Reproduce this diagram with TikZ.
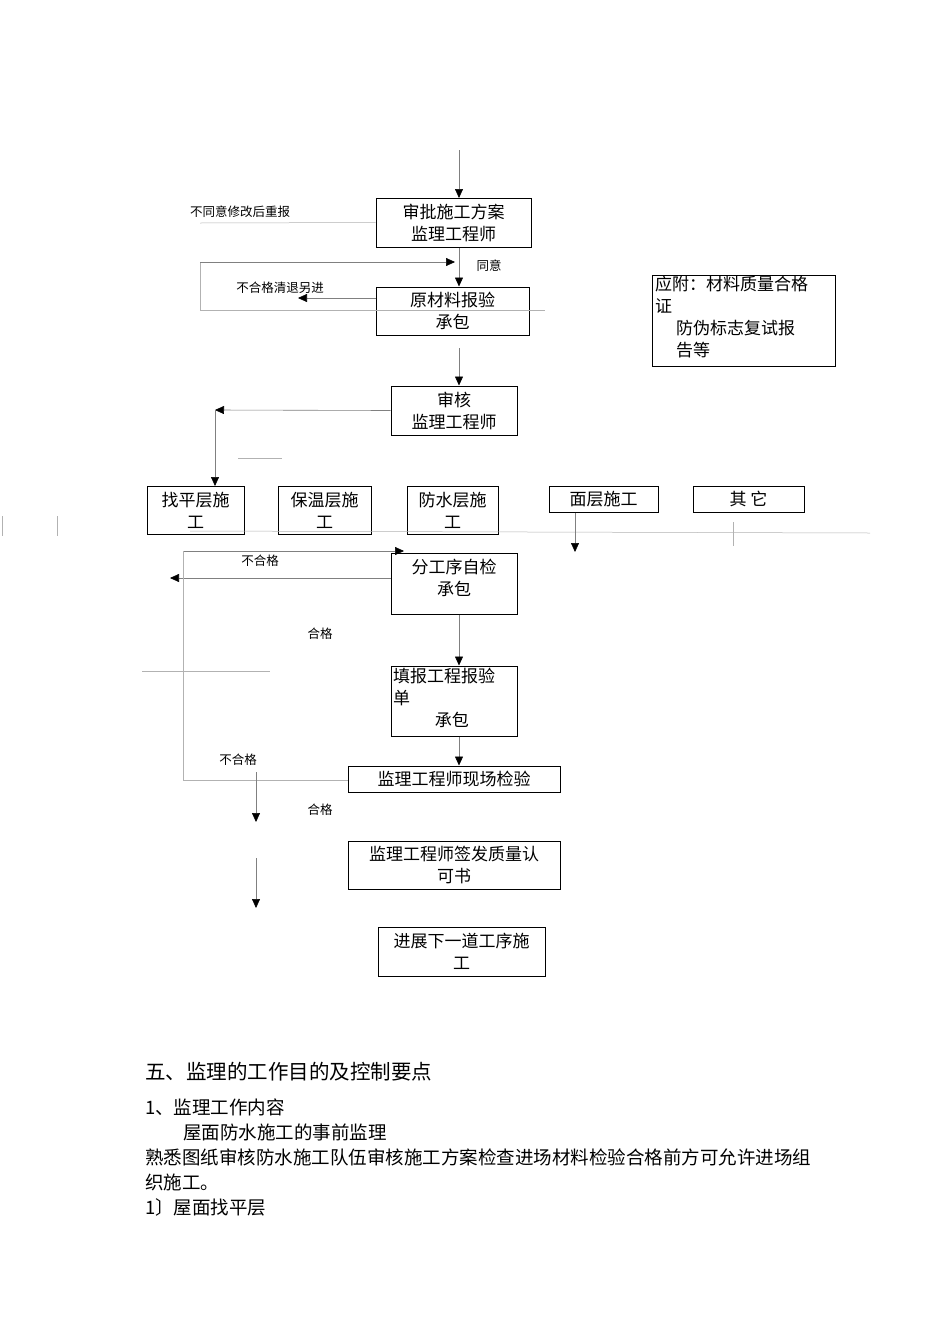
\documentclass[tikz,border=0pt]{standalone}
\usepackage{fontspec}
\setmainfont{Noto Sans CJK SC}
\usetikzlibrary{arrows.meta}
\begin{document}
\begin{tikzpicture}[x=1pt,y=-1pt,
  bx/.style={draw,line width=1pt,inner sep=0pt,align=center,font=\fontsize{17}{22}\selectfont},
  lab/.style={inner sep=0pt,font=\fontsize{12.5}{14}\selectfont},
  arr/.style={-{Triangle[length=9pt,width=8pt,color=black]},line width=0.6pt,draw=gray},
  gl/.style={draw=gray!60,line width=0.5pt},
  body/.style={inner sep=0pt,anchor=west,font=\fontsize{18.5}{20}\selectfont}]
\useasboundingbox (0,0) rectangle (950,1344);
% boxes
\node[bx,minimum width=155,minimum height=49] (A) at (453.5,222.5) {审批施工方案\\监理工程师};
\node[bx,minimum width=153,minimum height=48] (B) at (452.5,311) {原材料报验\\承包};
\node[bx,minimum width=126,minimum height=49] (C) at (454,410.5) {审核\\监理工程师};
\node[bx,minimum width=183,minimum height=91] (N) at (743.5,320.5) {};
\node[inner sep=0pt,anchor=north west,align=left,font=\fontsize{17}{22}\selectfont] (Nt) at (655,276) {应附：材料质量合格\\证\\\quad\ 防伪标志复试报\\\quad\ 告等};
\node[bx,minimum width=97,minimum height=48] (R1) at (195.5,510) {找平层施\\工};
\node[bx,minimum width=93,minimum height=48] (R2) at (324.5,510) {保温层施\\工};
\node[bx,minimum width=91,minimum height=48] (R3) at (452.5,510) {防水层施\\工};
\node[bx,minimum width=109,minimum height=26] (R4) at (603.5,499) {面层施工};
\node[bx,minimum width=111,minimum height=26] (R5) at (748.5,499) {其\ 它};
\node[bx,minimum width=126,minimum height=61] (D) at (454,583.5) {};
\node[inner sep=0pt,align=center,font=\fontsize{17}{22}\selectfont] (Dt) at (454,578) {分工序自检\\承包};
\node[bx,minimum width=126,minimum height=70] (E) at (454,701) {};
\node[inner sep=0pt,anchor=north west,align=left,font=\fontsize{17}{22}\selectfont] (Et) at (393,668) {填报工程报验\\单\\\qquad\ \ 承包};
\node[bx,minimum width=212,minimum height=26] (F) at (454,779) {监理工程师现场检验};
\node[bx,minimum width=212,minimum height=48] (G) at (454,865) {监理工程师签发质量认\\可书};
\node[bx,minimum width=167,minimum height=49] (H) at (461.5,951.5) {进展下一道工序施\\工};
% coordinates
\coordinate (top) at (459,150); \coordinate (topE) at (459,198);
\coordinate (l1) at (200,262); \coordinate (l2) at (455,262);
\coordinate (l3) at (200,310); \coordinate (l4) at (545,310);
\coordinate (rej) at (298,298);
\coordinate (cl) at (215,410); \coordinate (cd) at (215,486);
\coordinate (ng1a) at (183,551); \coordinate (ng1b) at (404,551);
\coordinate (ng2) at (170,578);
\coordinate (fb) at (183,780);
\coordinate (m1) at (575,552);
\coordinate (p1) at (256,772); \coordinate (p2) at (256,822);
\coordinate (p3) at (256,858); \coordinate (p4) at (256,908);
% connectors
\draw[arr] (top) -- (topE);
\draw[gl] (200,223) -- (A.west);
\draw[gl] (l1) -- (l3) -- (l4);
\draw[arr] (l1) -- (l2);
\draw[arr] (A.south -| 459,0) -- (B.north -| 459,0);
\draw[arr] (376,298) -- (rej);
\draw[arr] (459,348) -- (C.north -| 459,0);
\draw[arr] (C.west) -- (cl);
\draw[arr] (cl) -- (cd);
\draw[gl] (238,458) -- (282,458);
\draw[gl] (190,531) -- (870,533);
\draw[arr] (ng1a) -- (ng1b);
\draw[arr] (D.west |- ng2) -- (ng2);
\draw[gl] (ng1a) -- (fb) -- (F.west |- fb);
\draw[gl] (142,671) -- (270,671);
\draw[arr] (D.south -| 459,0) -- (E.north -| 459,0);
\draw[arr] (E.south -| 459,0) -- (F.north -| 459,0);
\draw[arr] (R4.south -| m1) -- (m1);
\draw[gl] (733,522) -- (733,546);
\draw[gl] (2,516) -- (2,536); \draw[gl] (57,516) -- (57,536);
\draw[arr] (p1) -- (p2);
\draw[arr] (p3) -- (p4);
% labels
\node[lab] (t1) at (240,212) {不同意修改后重报};
\node[lab] (t2) at (489,266) {同意};
\node[lab] (t3) at (280,288) {不合格清退另进};
\node[lab] (t4) at (260,561) {不合格};
\node[lab] (t5) at (320,634) {合格};
\node[lab] (t6) at (238,760) {不合格};
\node[lab] (t7) at (320,810) {合格};
% body text
\node[body,font=\fontsize{20.5}{22}\selectfont] (h1) at (145,1072) {五、监理的工作目的及控制要点};
\node[body] (b1) at (145,1107) {1、监理工作内容};
\node[body] (b2) at (183,1132) {屋面防水施工的事前监理};
\node[body] (b3) at (145,1157) {熟悉图纸审核防水施工队伍审核施工方案检查进场材料检验合格前方可允许进场组};
\node[body] (b4) at (145,1182) {织施工。};
\node[body] (b5) at (145,1207) {1〕屋面找平层};
\end{tikzpicture}
\end{document}
